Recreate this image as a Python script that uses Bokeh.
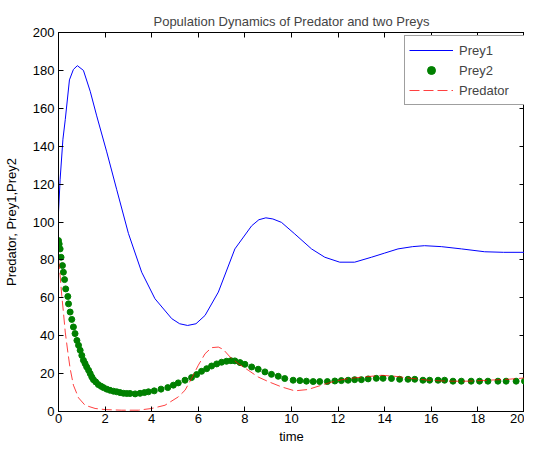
from bokeh.plotting import figure
from bokeh.models import LinearAxis, Legend, LegendItem, FixedTicker, Range1d
from bokeh.embed import file_html
from bokeh.resources import INLINE

# ---- data ----
t_prey1 = [0.0, 0.07, 0.19, 0.29, 0.47, 0.64, 0.81, 1.07, 1.36, 1.64, 2.07, 2.5,
           3.0, 3.57, 4.14, 4.86, 5.2, 5.54, 5.9, 6.29, 6.86, 7.57, 8.29, 8.6,
           8.9, 9.2, 9.57, 10.14, 10.86, 11.43, 12.07, 12.71, 13.43, 14.0, 14.57,
           15.2, 15.71, 16.43, 17.3, 18.29, 19.1, 20.0]
prey1 = [105, 122.6, 143.7, 154, 175, 180.5, 182.5, 180, 169, 156, 137, 117,
         94, 73.5, 59.5, 49, 46.3, 45.4, 46.3, 50.7, 63, 85.8, 98, 101.2,
         102.2, 101.6, 99.8, 93.7, 85.8, 81.4, 78.8, 78.8, 81.4, 83.6, 85.8,
         87, 87.5, 87, 85.8, 84.3, 84, 84]

t_prey2 = [0.0, 0.03, 0.07, 0.11, 0.17, 0.21, 0.26, 0.31, 0.40, 0.43, 0.50, 0.57,
           0.64, 0.71, 0.79, 0.86, 0.93, 1.0, 1.07, 1.14, 1.21, 1.29, 1.36, 1.43,
           1.50, 1.60, 1.71, 1.83, 1.93, 2.07, 2.21, 2.36, 2.5, 2.64, 2.79, 2.93,
           3.07, 3.29, 3.5, 3.69, 3.86, 4.11, 4.4, 4.69, 4.93, 5.14, 5.43, 5.71,
           5.93, 6.14, 6.36, 6.57, 6.79, 7.0, 7.21, 7.4, 7.57, 7.79, 8.0, 8.29,
           8.57, 8.86, 9.14, 9.43, 9.71, 10.07, 10.36, 10.64, 10.93, 11.21, 11.54,
           11.86, 12.14, 12.43, 12.71, 13.0, 13.29, 13.64, 13.93, 14.29, 14.64,
           15.0, 15.29, 15.64, 15.93, 16.29, 16.57, 16.93, 17.29, 17.71, 18.07,
           18.43, 18.86, 19.21, 19.64, 20.0]
prey2 = [90.2, 88.4, 85.8, 81.4, 77.0, 73.5, 69.6, 64.7, 60.7, 56.8, 52.5, 48.6,
         44.6, 41.1, 37.5, 34.9, 32.3, 29.6, 27.0, 25.3, 23.5, 21.8, 20.0, 18.2,
         16.8, 15.6, 14.2, 13.3, 12.6, 11.8, 11.2, 10.7, 10.4, 10.0, 9.6, 9.5,
         9.5, 9.3, 9.6, 10.0, 10.4, 10.9, 11.8, 12.6, 13.9, 15.1, 16.5, 17.9,
         19.5, 21.2, 22.6, 24.0, 25.1, 26.0, 26.5, 26.8, 26.7, 25.8, 24.9, 23.5,
         22.3, 20.9, 19.6, 18.6, 17.4, 16.5, 16.3, 16.0, 15.8, 15.8, 15.8,
         16.1, 16.3, 16.5, 16.8, 16.8, 17.2, 17.5, 17.5, 17.4, 17.0,
         17.0, 17.0, 16.5, 16.5, 16.5, 16.5, 16.0, 16.0, 16.0, 16.0,
         16.0, 16.0, 16.0, 16.0, 16.0]

t_pred = [0.0, 0.07, 0.14, 0.21, 0.29, 0.4, 0.5, 0.64, 0.86, 1.14, 1.57, 2.0,
          2.71, 3.43, 4.0, 4.57, 5.14, 5.43, 5.71, 6.0, 6.29, 6.57, 6.86, 7.07,
          7.36, 7.71, 8.14, 8.57, 9.0, 9.57, 10.14, 10.71, 11.29, 11.86, 12.43,
          13.0, 13.86, 14.43, 15.0, 15.86, 16.71, 17.57, 18.43, 19.29, 20.0]
pred = [80.5, 71.8, 61.2, 52.5, 41.9, 31.4, 22.6, 13.9, 7.2, 3.3, 1.6, 1.0,
        0.7, 0.7, 1.6, 3.3, 7.7, 11.2, 17.4, 24.4, 30.5, 33.7, 34.0, 32.8,
        28.8, 25.3, 21.8, 18.2, 15.8, 13.0, 10.9, 11.6, 13.9, 16.0, 17.4,
        18.1, 19.1, 18.6, 17.7, 16.5, 16.0, 16.0, 16.5, 17.0, 17.7]

x_ticks = [0, 2, 4, 6, 8, 10, 12, 14, 16, 18, 20]
y_ticks = [0, 20, 40, 60, 80, 100, 120, 140, 160, 180, 200]

FONT = "Liberation Sans"

p = figure(frame_width=466, frame_height=379, output_backend="svg",
           toolbar_location=None, x_range=Range1d(0, 20), y_range=Range1d(0, 200),
           title="Population Dynamics of Predator and two Preys",
           min_border_left=52, min_border_right=0, min_border_top=32,
           min_border_bottom=0)

p.background_fill_color = "white"
p.border_fill_color = "white"
p.outline_line_color = "black"
p.xgrid.visible = False
p.ygrid.visible = False

p.title.align = "center"
p.title.text_font = FONT
p.title.text_font_size = "13px"
p.title.text_font_style = "normal"
p.title.standoff = 8

r1 = p.line(t_prey1, prey1, line_color="#0000ff", line_width=1)
r2 = p.scatter(t_prey2, prey2, size=6, fill_color="#008000", line_color="#008000")
r3 = p.line(t_pred, pred, line_color="#ff0000", line_width=1, line_dash="10 4",
            line_alpha=0.75)

bottom_ax = p.below[0]
left_ax = p.left[0]
bottom_ax.axis_label = "time"
left_ax.axis_label = "Predator, Prey1,Prey2"

top = LinearAxis()
right = LinearAxis()
p.add_layout(top, "above")
p.add_layout(right, "right")

bottom_ax.ticker = FixedTicker(ticks=x_ticks)
top.ticker = FixedTicker(ticks=x_ticks)
left_ax.ticker = FixedTicker(ticks=y_ticks)
right.ticker = FixedTicker(ticks=y_ticks)

for ax in [bottom_ax, left_ax, top, right]:
    ax.major_tick_in = 5
    ax.major_tick_out = 0
    ax.minor_tick_line_color = None
    ax.axis_line_color = "black"
    ax.major_tick_line_color = "black"
    ax.major_label_text_font = FONT
    ax.major_label_text_font_size = "13px"
    ax.major_label_text_color = "black"
    ax.axis_label_text_font = FONT
    ax.axis_label_text_font_size = "13px"
    ax.axis_label_text_font_style = "normal"
    ax.axis_label_text_color = "black"

top.major_label_overrides = {t: "" for t in x_ticks}
right.major_label_overrides = {t: "" for t in y_ticks}
for ax in [top, right]:
    ax.major_label_standoff = 0

bottom_ax.major_label_standoff = 2
bottom_ax.axis_label_standoff = 3
left_ax.major_label_standoff = 4
left_ax.axis_label_standoff = 11

legend = Legend(items=[LegendItem(label="Prey1", renderers=[r1]),
                       LegendItem(label="Prey2", renderers=[r2]),
                       LegendItem(label="Predator", renderers=[r3])],
                location=(346, 306), padding=4, spacing=0, margin=0,
                glyph_width=44, glyph_height=20, label_height=20,
                label_width=63, label_standoff=6,
                label_text_font=FONT, label_text_font_size="13px",
                border_line_color="#404040", border_line_width=1,
                background_fill_color="white", background_fill_alpha=1.0)
p.add_layout(legend, "center")

open("out.html", "w").write(file_html(p, INLINE))
